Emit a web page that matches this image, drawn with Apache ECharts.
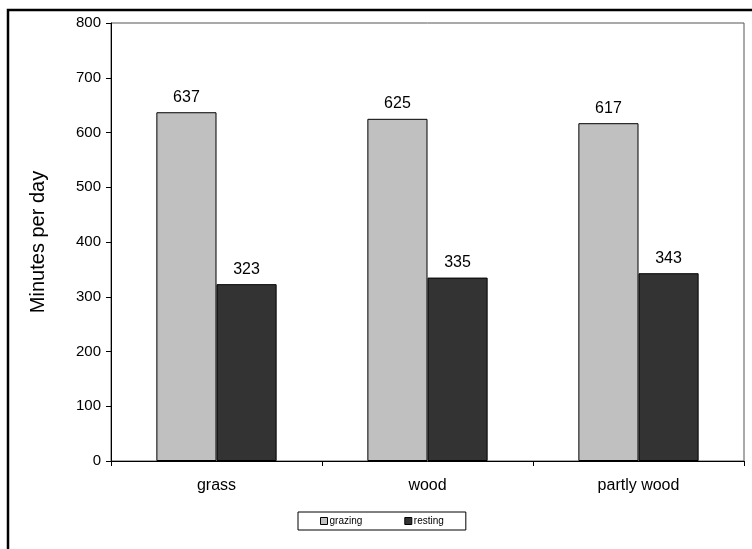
<!DOCTYPE html>
<html>
<head>
<meta charset="utf-8">
<script src="https://cdn.jsdelivr.net/npm/echarts@6/dist/echarts.min.js"></script>
<style>
  html, body { margin: 0; padding: 0; background: #fff; }
  #chart { width: 752px; height: 549px; }
</style>
</head>
<body>
<div id="chart"></div>
<script>
// Daily time budget by habitat type
var categories = ['grass', 'wood', 'partly wood'];
var grazing = [637, 625, 617];
var resting = [323, 335, 343];
var yTicks = [0, 100, 200, 300, 400, 500, 600, 700, 800];

var font = 'Arial, "Liberation Sans", sans-serif';
var chart = echarts.init(document.getElementById('chart'), null, { renderer: 'canvas' });

function barSeries(name, data, color) {
  return {
    name: name,
    type: 'bar',
    data: data,
    barGap: '0%',
    barCategoryGap: '43%',
    itemStyle: { color: color, borderColor: '#000', borderWidth: 1 },
    label: {
      show: true,
      position: 'top',
      distance: 7,
      color: '#000',
      fontFamily: font,
      fontSize: 16
    },
    emphasis: { disabled: true }
  };
}

chart.setOption({
  animation: false,
  backgroundColor: '#fff',
  graphic: [{
    type: 'rect',
    shape: { x: 8, y: 10, width: 800, height: 600 },
    style: { fill: 'none', stroke: '#000', lineWidth: 2.5 },
    silent: true
  }],
  grid: {
    left: 111, top: 23, right: 8, bottom: 88,
    show: true, borderColor: '#555', borderWidth: 1, backgroundColor: '#fff'
  },
  legend: {
    left: 298, top: 512,
    width: 158,
    itemWidth: 7, itemHeight: 7,
    itemGap: 42,
    padding: [4, 22, 4, 22],
    borderColor: '#000', borderWidth: 1,
    icon: 'rect',
    textStyle: { fontFamily: font, fontSize: 10, color: '#000', padding: [0, 0, 0, -3] },
    itemStyle: { borderColor: '#000', borderWidth: 1 },
    data: ['grazing', 'resting']
  },
  xAxis: {
    type: 'category',
    data: categories,
    axisLine: { lineStyle: { color: '#000', width: 1 } },
    axisTick: { show: true, alignWithLabel: false, length: 5, lineStyle: { color: '#000' } },
    axisLabel: { color: '#000', fontFamily: font, fontSize: 16, margin: 17 },
    splitLine: { show: false }
  },
  yAxis: {
    type: 'value',
    min: yTicks[0],
    max: yTicks[yTicks.length - 1],
    interval: 100,
    name: 'Minutes per day',
    nameLocation: 'middle',
    nameGap: 63,
    nameTextStyle: { color: '#000', fontFamily: font, fontSize: 20 },
    axisLine: { show: true, lineStyle: { color: '#000', width: 1 } },
    axisTick: { show: true, length: 5, lineStyle: { color: '#000' } },
    axisLabel: { color: '#000', fontFamily: font, fontSize: 15, margin: 10 },
    splitLine: { show: false }
  },
  series: [
    barSeries('grazing', grazing, '#c0c0c0'),
    barSeries('resting', resting, '#333333')
  ]
});
</script>
</body>
</html>
